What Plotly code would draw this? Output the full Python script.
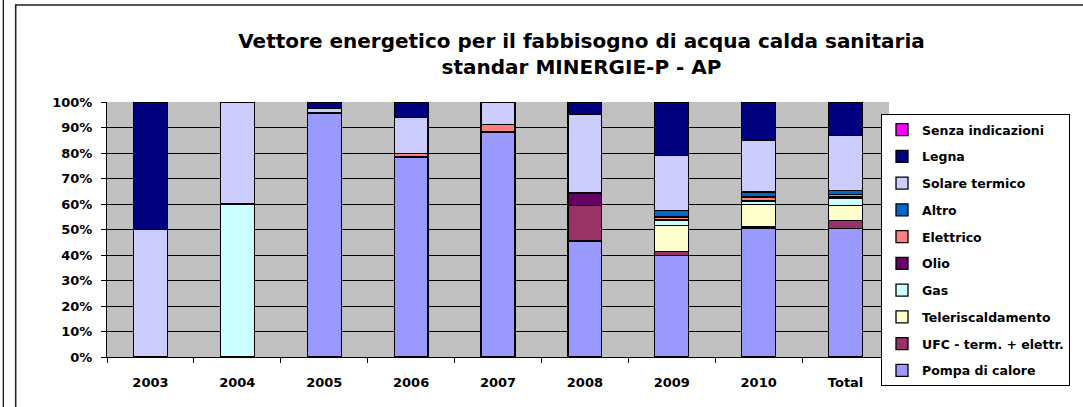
import plotly.graph_objects as go

# categories and series (percent shares)
years = ['2003', '2004', '2005', '2006', '2007', '2008', '2009', '2010', 'Total']

pompa = [0, 0, 95.7, 78.4, 88.2, 45.5, 39.9, 50.6, 50.3]
ufc = [0, 0, 0, 0, 0, 13.8, 1.6, 0.4, 3.2]
teleriscaldamento = [0, 0, 0, 0, 0, 0, 10.1, 8.8, 5.9]
gas = [0, 60.0, 0, 0, 0, 0, 1.8, 1.3, 2.7]
olio = [0, 0, 0, 0, 0, 5.0, 0.6, 0.4, 0.6]
elettrico = [0, 0, 0, 1.3, 2.9, 0, 0.9, 1.3, 0.9]
altro = [0, 0, 0, 0, 0, 0, 2.5, 1.9, 1.8]
solare = [50.0, 40.0, 1.8, 14.1, 8.9, 30.9, 21.5, 20.4, 21.4]
legna = [50.0, 0, 2.5, 6.2, 0, 4.8, 21.1, 14.9, 13.2]
senza = [0, 0, 0, 0, 0, 0, 0, 0, 0]

series = [
    ('Pompa di calore', pompa, '#9999FF'),
    ('UFC - term. + elettr.', ufc, '#993366'),
    ('Teleriscaldamento', teleriscaldamento, '#FFFFCC'),
    ('Gas', gas, '#CCFFFF'),
    ('Olio', olio, '#660066'),
    ('Elettrico', elettrico, '#FF8080'),
    ('Altro', altro, '#0066CC'),
    ('Solare termico', solare, '#CCCCFF'),
    ('Legna', legna, '#000080'),
    ('Senza indicazioni', senza, '#FF00FF'),
]

FONT = 'DejaVu Sans'
W, H = 1083, 407
L, R, T, B = 107, 194, 102, 50
pw = W - L - R
ph = H - T - B

fig = go.Figure()
n = len(series)
for i, (name, vals, col) in enumerate(series):
    # legend lists the top of the stack first
    fig.add_trace(go.Bar(x=years, y=vals, name=name, legendgroup=name, legendrank=n - i,
                         marker=dict(color=col, line=dict(color='black', width=1.3))))

# pixel -> paper helpers for the frame lines
def px(x):
    return (x - L) / pw

def py(y):
    return (H - B - y) / ph

shapes = [
    dict(type='line', xref='paper', yref='paper', x0=px(3.3), x1=px(3.3), y0=py(0), y1=py(H + 5),
         line=dict(color='black', width=1.2)),
    dict(type='rect', xref='paper', yref='paper', x0=px(15.7), x1=px(W + 10), y0=py(5), y1=py(H + 10),
         line=dict(color='#222222', width=1.6)),
]

fig.update_layout(
    width=W, height=H,
    margin=dict(l=L, r=R, t=T, b=B),
    barmode='stack', barnorm='percent', bargap=0.61,
    paper_bgcolor='white', plot_bgcolor='#C0C0C0',
    font=dict(family=FONT, color='black', size=13, weight='bold'),
    title=dict(text='Vettore energetico per il fabbisogno di acqua calda sanitaria<br>standar MINERGIE-P - AP',
               x=581.5 / W, xref='container', xanchor='center',
               y=1 - 48 / H, yref='container', yanchor='top',
               font=dict(family=FONT, size=20, weight='bold', color='black')),
    xaxis=dict(showgrid=False, showline=True, linecolor='black', linewidth=1,
               ticks='outside', tickson='boundaries', ticklen=5, tickcolor='black',
               ticklabelstandoff=13, tickfont=dict(size=13)),
    yaxis=dict(range=[0, 100], dtick=10, ticksuffix='%', showgrid=True, gridcolor='black', gridwidth=1,
               showline=True, linecolor='black', linewidth=1, zeroline=False,
               ticks='outside', ticklen=5, tickcolor='black',
               ticklabelstandoff=6, tickfont=dict(size=13)),
    legend=dict(x=px(881), xanchor='left', y=py(114), yanchor='top', maxheight=300,
                bgcolor='white', bordercolor='black', borderwidth=1,
                traceorder='grouped', tracegroupgap=7.5,
                font=dict(family=FONT, size=12.5, weight='bold')),
    shapes=shapes,
)

fig.write_html("out.html", config={'displayModeBar': False},
               post_script="document.body.style.margin='0';")
